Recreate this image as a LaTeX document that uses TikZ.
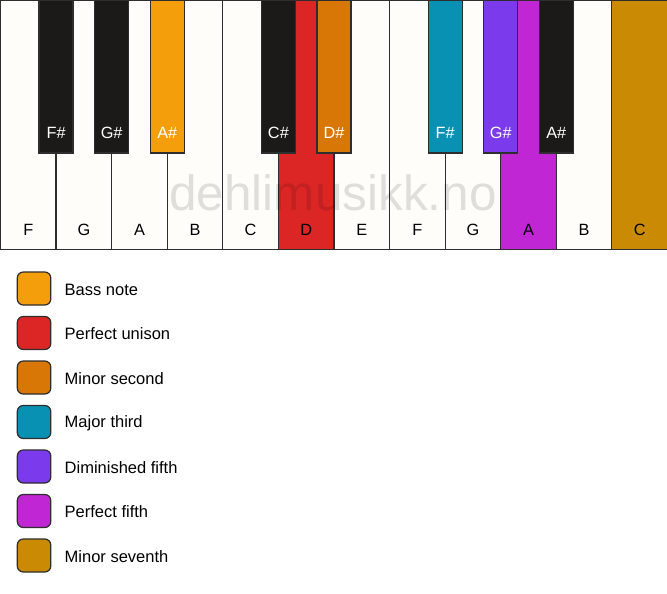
\documentclass[tikz,border=0pt]{standalone}
\usepackage{fontspec}
\setmainfont{Liberation Sans}
\definecolor{wkey}{HTML}{FEFDFA}
\definecolor{bkey}{HTML}{1C1A19}
\definecolor{keyline}{HTML}{2E2E2E}
\definecolor{cbass}{HTML}{F59E0B}
\definecolor{cunison}{HTML}{DC2626}
\definecolor{csecond}{HTML}{D97706}
\definecolor{cthird}{HTML}{0891B2}
\definecolor{cdimfifth}{HTML}{7C3AED}
\definecolor{cfifth}{HTML}{C026D3}
\definecolor{cseventh}{HTML}{CA8A04}
\begin{document}
\begin{tikzpicture}[x=1pt,y=-1pt,
  whitekey/.style={draw=keyline,line width=1.2pt,rectangle,anchor=north west,
    minimum width=55.58pt,minimum height=249.5pt,inner sep=0pt,outer sep=0pt},
  blackkey/.style={draw=keyline,line width=1.2pt,rectangle,anchor=north,
    minimum width=34pt,minimum height=153pt,inner sep=0pt,outer sep=0pt},
  wlabel/.style={font=\fontsize{16.3}{19}\selectfont,text=black,inner sep=0pt},
  blabel/.style={font=\fontsize{16.3}{19}\selectfont,text=white,inner sep=0pt},
  legbox/.style={draw=keyline,line width=1.2pt,rounded corners=6pt,
    minimum width=33.5pt,minimum height=33pt,inner sep=0pt,anchor=west},
  legtext/.style={font=\fontsize{16.5}{19}\selectfont,anchor=west,inner sep=0pt},
  watermark/.style={font=\fontsize{49.5}{54}\selectfont,text=black,text opacity=0.12,inner sep=0pt}
]
\useasboundingbox[fill=white] (0,0) rectangle (667,594);
% white keys
\foreach \n/\lab/\col [count=\i from 0] in
  {wF/F/wkey, wG/G/wkey, wA/A/wkey, wB/B/wkey, wC/C/wkey, wD/D/cunison,
   wE/E/wkey, wFF/F/wkey, wGG/G/wkey, wAA/A/cfifth, wBB/B/wkey, wCC/C/cseventh}{
  \node[whitekey,fill=\col] (\n) at ({\i*55.58+0.5},0) {};
  \node[wlabel] (\n-l) at ({\i*55.58+0.5+27.79},229.5) {\lab};
}
% watermark
\node[watermark] (wm) at (333,192.5) {dehlimusikk.no};
% black keys
\foreach \n/\lab/\col/\b in
  {bFs/F\#/bkey/1, bGs/G\#/bkey/2, bAs/A\#/cbass/3, bCs/C\#/bkey/5, bDs/D\#/csecond/6,
   bFFs/F\#/cthird/8, bGGs/G\#/cdimfifth/9, bAAs/A\#/bkey/10}{
  \node[blackkey,fill=\col] (\n) at ({\b*55.58+0.5},0) {};
  \node[blabel] (\n-l) at ({\b*55.58+0.5},133) {\lab};
}
% legend
\foreach \n/\col/\txt [count=\j from 0] in
  {lbass/cbass/Bass note, lunison/cunison/Perfect unison, lsecond/csecond/Minor second,
   lthird/cthird/Major third, ldim/cdimfifth/Diminished fifth, lfifth/cfifth/Perfect fifth,
   lseventh/cseventh/Minor seventh}{
  \node[legbox,fill=\col] (\n) at (16.7,{288.5+\j*44.5}) {};
  \node[legtext] (\n-t) at (64.5,{289.5+\j*44.5}) {\txt};
}
\end{tikzpicture}
\end{document}
